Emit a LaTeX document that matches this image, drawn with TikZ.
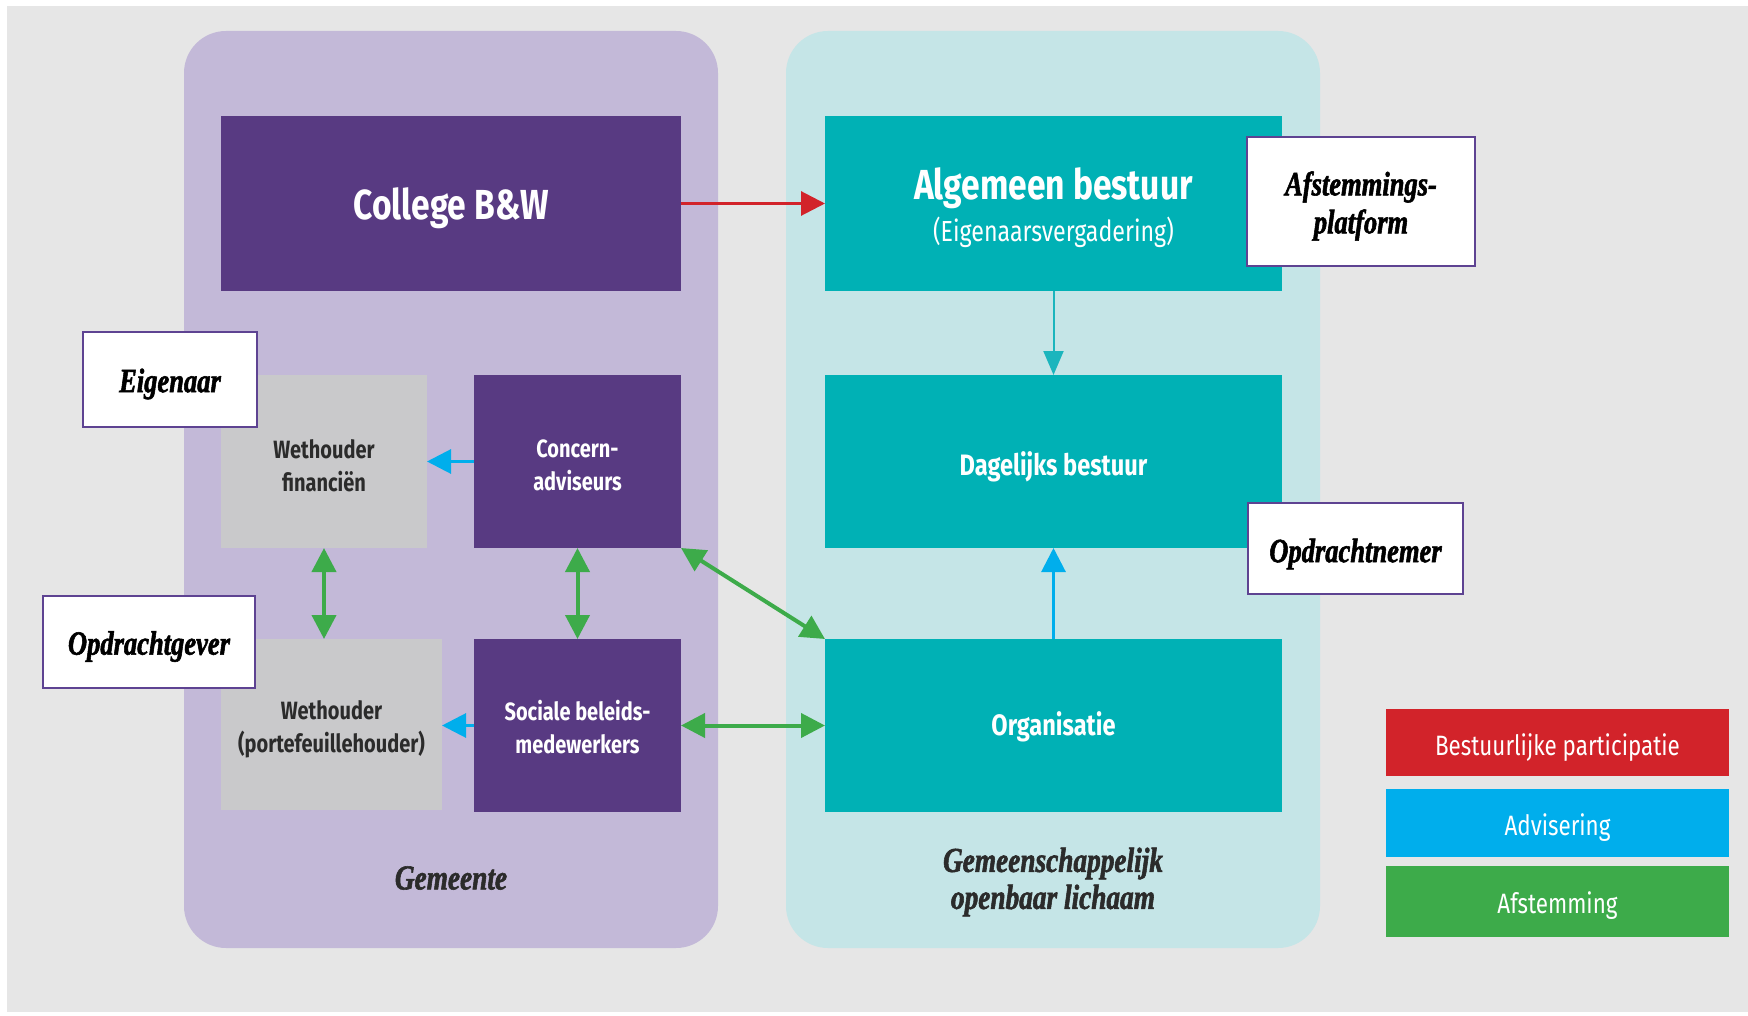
\documentclass[tikz,border=0pt]{standalone}
\usepackage{fontspec}
\usetikzlibrary{arrows.meta}
\newfontfamily\boxfont[FakeStretch=0.8]{Fira Sans}
\newfontfamily\labfont[FakeStretch=0.78, FakeBold=1.6]{Liberation Serif}
\definecolor{bgc}{HTML}{E6E6E6}
\definecolor{lpanel}{HTML}{C3B9D8}
\definecolor{rpanel}{HTML}{C5E5E7}
\definecolor{dpurple}{HTML}{583A82}
\definecolor{teal2}{HTML}{00B1B5}
\definecolor{greybox}{HTML}{C9C9CB}
\definecolor{labborder}{HTML}{5E4392}
\definecolor{redc}{HTML}{D2232A}
\definecolor{bluec}{HTML}{00AEEC}
\definecolor{greenc}{HTML}{3DAB4A}
\definecolor{arrteal}{HTML}{1BB5BD}
\definecolor{darktext}{HTML}{2B2B2B}
\tikzset{
  base/.style={inner sep=0pt, outer sep=0pt},
  purplebox/.style={base, fill=dpurple},
  tealbox/.style={base, fill=teal2},
  greyboxs/.style={base, fill=greybox},
  whitetxt/.style={inner sep=0pt, align=center, text=white, font=\boxfont\bfseries\fontsize{25}{33}\selectfont},
  darktxt/.style={whitetxt, text=darktext},
  labelbox/.style={inner sep=0pt, outer sep=0pt, fill=white, draw=labborder, line width=2.5pt},
  labeltxt/.style={inner sep=0pt, align=center, font=\labfont\bfseries\itshape\fontsize{34}{38}\selectfont, text=black},
  legendbox/.style={base, minimum width=343pt},
  legendtxt/.style={inner sep=0pt, text=white, font=\boxfont\fontsize{28}{34}\selectfont},
  arr/.style={line width=3pt, -{Triangle[length=24pt,width=24pt]}},
  redarrow/.style={arr, draw=redc, fill=redc},
  tealarrow/.style={arr, line width=2pt, draw=arrteal, -{Triangle[length=24pt,width=20pt]}},
  bluearrow/.style={arr, draw=bluec, -{Triangle[length=24pt,width=24pt]}},
  greenarrow/.style={line width=4pt, draw=greenc, {Triangle[length=24pt,width=24pt]}-{Triangle[length=24pt,width=24pt]}},
  paneltext/.style={inner sep=0pt, align=center, font=\labfont\bfseries\itshape\fontsize{35}{37}\selectfont, text=darktext}
}
\begin{document}
\begin{tikzpicture}[x=1pt, y=-1pt]
\useasboundingbox (0,0) rectangle (1748,1016);
\fill[white] (0,0) rectangle (1748,1016);
\fill[bgc] (7,6) rectangle (1748,1012);
% panels
\fill[lpanel, rounded corners=42pt] (184,31) rectangle (718,948);
\fill[rpanel, rounded corners=42pt] (786,31) rectangle (1320,948);
% main boxes
\node[purplebox, minimum width=460pt, minimum height=175pt] (college) at (451,203.5) {};
\node[whitetxt, font=\boxfont\bfseries\fontsize{42}{46}\selectfont] (collegetxt) at (451,208) {College B\&W};
\node[tealbox, minimum width=457pt, minimum height=175pt] (algemeen) at (1053.5,203.5) {};
\node[whitetxt, font=\boxfont\bfseries\fontsize{42}{46}\selectfont] (algtitle) at (1053.5,188) {Algemeen bestuur};
\node[whitetxt, font=\boxfont\fontsize{29}{30}\selectfont] (algsub) at (1053.5,232) {(Eigenaarsvergadering)};
\node[tealbox, minimum width=457pt, minimum height=173pt] (dagelijks) at (1053.5,461.5) {};
\node[whitetxt, font=\boxfont\bfseries\fontsize{29.5}{33}\selectfont] (dagtxt) at (1053.5,467) {Dagelijks bestuur};
\node[tealbox, minimum width=457pt, minimum height=173pt] (organisatie) at (1053.5,725.5) {};
\node[whitetxt, font=\boxfont\bfseries\fontsize{29.5}{33}\selectfont] (orgtxt) at (1053.5,727) {Organisatie};
\node[greyboxs, minimum width=206pt, minimum height=173pt] (wfin) at (324,461.5) {};
\node[darktxt] (wfintxt) at (324,466) {Wethouder\\financiën};
\node[purplebox, minimum width=207pt, minimum height=173pt] (concern) at (577.5,461.5) {};
\node[whitetxt] (concerntxt) at (577.5,465.5) {Concern-\\adviseurs};
\node[greyboxs, minimum width=221pt, minimum height=171pt] (wport) at (331.5,724.5) {};
\node[darktxt] (wporttxt) at (331.5,729) {Wethouder\\(portefeuillehouder)};
\node[purplebox, minimum width=207pt, minimum height=173pt] (sociale) at (577.5,725.5) {};
\node[whitetxt] (socialetxt) at (577.5,727) {Sociale beleids-\\medewerkers};
% arrows
\draw[redarrow] (college.east) -- (algemeen.west);
\draw[tealarrow] (algemeen.south) -- (dagelijks.north);
\draw[bluearrow] (organisatie.north) -- (dagelijks.south);
\draw[bluearrow] (concern.west) -- (wfin.east);
\draw[bluearrow] (sociale.west) -- (sociale.west -| wport.east);
\draw[greenarrow] (wfin.south) -- (wfin.south |- wport.north);
\draw[greenarrow] (concern.south) -- (sociale.north);
\draw[greenarrow] (concern.south east) -- (organisatie.north west);
\draw[greenarrow] (sociale.east) -- (organisatie.west);
% label boxes
\node[labelbox, minimum width=174pt, minimum height=95pt] (eigenaar) at (170,379.5) {};
\node[labeltxt] (eigenaartxt) at (170,384) {Eigenaar};
\node[labelbox, minimum width=212pt, minimum height=92pt] (opdrachtgever) at (149,642) {};
\node[labeltxt] (opdrachtgevertxt) at (149,646.5) {Opdrachtgever};
\node[labelbox, minimum width=215pt, minimum height=91pt] (opdrachtnemer) at (1355.5,548.5) {};
\node[labeltxt] (opdrachtnemertxt) at (1355.5,554) {Opdrachtnemer};
\node[labelbox, minimum width=228pt, minimum height=129pt] (afst) at (1361,201.5) {};
\node[labeltxt] (afsttxt) at (1361,206) {Afstemmings-\\platform};
% panel labels
\node[paneltext] (gemeente) at (451,878) {Gemeente};
\node[paneltext] (gol) at (1053,882) {Gemeenschappelijk\\openbaar lichaam};
% legend
\node[legendbox, fill=redc, minimum height=67pt] (lred) at (1557.5,742.5) {};
\node[legendtxt] (lredtxt) at (1557.5,748) {Bestuurlijke participatie};
\node[legendbox, fill=bluec, minimum height=68pt] (lblue) at (1557.5,823) {};
\node[legendtxt] (lbluetxt) at (1557.5,828) {Advisering};
\node[legendbox, fill=greenc, minimum height=71pt] (lgreen) at (1557.5,901.5) {};
\node[legendtxt] (lgreentxt) at (1557.5,906) {Afstemming};
\end{tikzpicture}
\end{document}
